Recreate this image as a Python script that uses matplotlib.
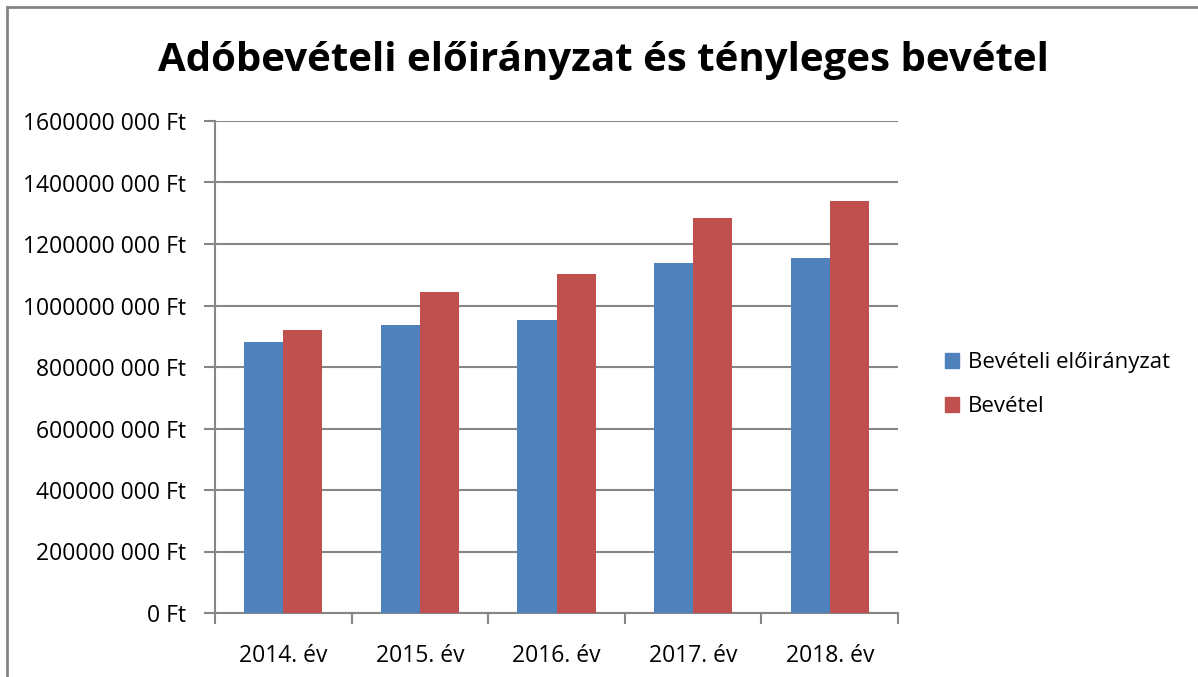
import matplotlib.pyplot as plt
import numpy as np
from matplotlib.ticker import FuncFormatter, FixedLocator, MultipleLocator
from matplotlib.patches import Patch
from matplotlib.lines import Line2D

years = ["2014. év", "2015. év", "2016. év", "2017. év", "2018. év"]
eloiranyzat = [880e6, 938e6, 952e6, 1138e6, 1155e6]
bevetel = [919e6, 1044e6, 1103e6, 1285e6, 1340e6]
series_names = ["Bevételi előirányzat", "Bevétel"]

BLUE = "#4F81BD"
RED = "#C0504D"
GRID = "#868686"

plt.rcParams["font.family"] = ["Open Sans", "DejaVu Sans"]


def ft_fmt(v, pos):
    v = int(round(v))
    if v == 0:
        return "0 Ft"
    return "%d %03d Ft" % (v // 1000, v % 1000)


fig = plt.figure(figsize=(11.98, 6.77), dpi=100)
ax = fig.add_axes([215 / 1198, 1 - 613 / 677, (898 - 215) / 1198, (613 - 121) / 677])

x = np.arange(len(years))
w = 1 / 3.5
ax.bar(x - w / 2, eloiranyzat, width=w, color=BLUE, label=series_names[0], zorder=3)
ax.bar(x + w / 2, bevetel, width=w, color=RED, label=series_names[1], zorder=3)

ax.set_xlim(-0.5, len(years) - 0.5)
ax.set_ylim(0, 1.6e9)
ax.yaxis.set_major_locator(MultipleLocator(2e8))
ax.yaxis.set_major_formatter(FuncFormatter(ft_fmt))
ax.grid(axis="y", color=GRID, linewidth=1.5, zorder=0)

ax.xaxis.set_major_locator(FixedLocator(np.arange(-0.5, len(years), 1.0)))
ax.xaxis.set_major_formatter(FuncFormatter(lambda v, p: ""))
ax.xaxis.set_minor_locator(FixedLocator(x))
ax.set_xticklabels(years, minor=True)
ax.tick_params(axis="x", which="minor", length=0, pad=22, labelsize=16.5)
ax.tick_params(axis="x", which="major", length=8, width=1.5, color=GRID, direction="out")
ax.tick_params(axis="y", length=8, width=1.5, color=GRID, direction="out", pad=13, labelsize=16.5)

for s in ["top", "right"]:
    ax.spines[s].set_visible(False)
for s in ["left", "bottom"]:
    ax.spines[s].set_color(GRID)
    ax.spines[s].set_linewidth(1.5)

fig.text(603 / 1198, 1 - 60 / 677, "Adóbevételi előirányzat és tényleges bevétel",
         ha="center", va="center", fontsize=29, fontweight="bold")

handles = [Patch(color=BLUE), Patch(color=RED)]
fig.legend(handles, series_names, loc="upper left", bbox_to_anchor=(925 / 1198, 1 - 332 / 677),
           frameon=False, fontsize=16, handlelength=0.65, handleheight=0.65,
           handletextpad=0.4, labelspacing=1.05)

# outer chart border (top and left visible)
fig.add_artist(Line2D([7 / 1198, 7 / 1198], [0, 1 - 7 / 677], transform=fig.transFigure,
                      color=GRID, linewidth=2))
fig.add_artist(Line2D([7 / 1198, 1], [1 - 7 / 677, 1 - 7 / 677], transform=fig.transFigure,
                      color=GRID, linewidth=2))

fig.savefig("out.png", dpi=100)
